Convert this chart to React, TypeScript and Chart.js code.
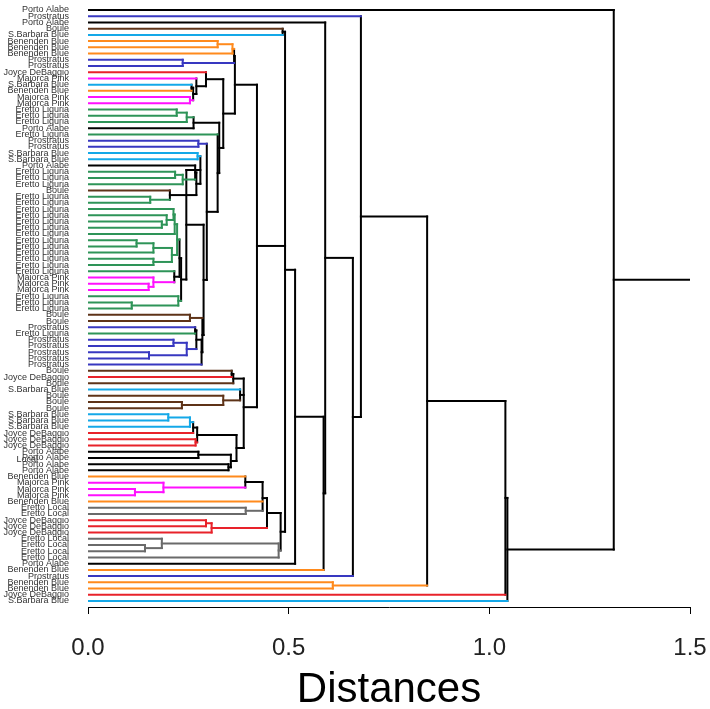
import React, { useEffect, useRef } from "react";
import { Chart, registerables } from "chart.js";

Chart.register(...registerables);

// Leaf labels, top to bottom
const leafLabels: string[] = [
  "Porto Alabe", "Prostratus", "Porto Alabe", "Boule", "S.Barbara Blue",
  "Benenden Blue", "Benenden Blue", "Benenden Blue", "Prostratus", "Prostratus",
  "Joyce DeBaggio", "Majorca Pink", "S.Barbara Blue", "Benenden Blue", "Majorca Pink",
  "Majorca Pink", "Eretto Liguria", "Eretto Liguria", "Eretto Liguria", "Porto Alabe",
  "Eretto Liguria", "Prostratus", "Prostratus", "S.Barbara Blue", "S.Barbara Blue",
  "Porto Alabe", "Eretto Liguria", "Eretto Liguria", "Eretto Liguria", "Boule",
  "Eretto Liguria", "Eretto Liguria", "Eretto Liguria", "Eretto Liguria", "Eretto Liguria",
  "Eretto Liguria", "Eretto Liguria", "Eretto Liguria", "Eretto Liguria", "Eretto Liguria",
  "Eretto Liguria", "Eretto Liguria", "Eretto Liguria", "Majorca Pink", "Majorca Pink",
  "Majorca Pink", "Eretto Liguria", "Eretto Liguria", "Eretto Liguria", "Boule",
  "Boule", "Prostratus", "Eretto Liguria", "Prostratus", "Prostratus",
  "Prostratus", "Prostratus", "Prostratus", "Boule", "Joyce DeBaggio",
  "Boule", "S.Barbara Blue", "Boule", "Boule", "Boule",
  "S.Barbara Blue", "S.Barbara Blue", "S.Barbara Blue", "Joyce DeBaggio", "Joyce DeBaggio",
  "Joyce DeBaggio", "Porto Alabe", "Porto Alabe", "Porto Alabe", "Porto Alabe",
  "Benenden Blue", "Majorca Pink", "Majorca Pink", "Majorca Pink", "Benenden Blue",
  "Eretto Local", "Eretto Local", "Joyce DeBaggio", "Joyce DeBaggio", "Joyce DeBaggio",
  "Eretto Local", "Eretto Local", "Eretto Local", "Eretto Local", "Porto Alabe",
  "Benenden Blue", "Prostratus", "Benenden Blue", "Benenden Blue", "Joyce DeBaggio",
  "S.Barbara Blue",
];

const groupNames: string[] = [
  "Porto Alabe", "Prostratus", "Boule", "S.Barbara Blue", "Benenden Blue",
  "Joyce DeBaggio", "Majorca Pink", "Eretto Liguria", "Eretto Local",
];
const groupColors: string[] = [
  "#000000", "#3838c0", "#5e3318", "#14a8e8", "#ff8a1c",
  "#e8222a", "#ff10ff", "#2e9458", "#6a6a6a",
];

// Internal nodes: children (negative = leaf number, positive = node number) and heights
const nodeChildren: number[][] = [
  [-6, -7], [1, -8], [-9, -10], [2, 3], [-15, -16],
  [-13, -14], [6, 5], [-12, 7], [-11, 8], [-17, -18],
  [10, -19], [11, -20], [-22, -23], [-24, -25], [-27, -28],
  [15, -29], [-26, 16], [-31, -32], [-30, 18], [17, 19],
  [14, 20], [-35, -36], [-34, 22], [-33, 23], [24, -37],
  [-38, -39], [26, -40], [-41, -42], [27, 28], [25, 29],
  [-45, -46], [-44, 31], [-43, 32], [30, 33], [-48, -49],
  [-47, 35], [34, 36], [21, 37], [-50, -51], [-52, -53],
  [-54, -55], [-56, -57], [41, 42], [40, 43], [44, -58],
  [39, 45], [38, 46], [13, 47], [-21, 48], [12, 49],
  [9, 50], [4, 51], [-59, -60], [53, -61], [-64, -65],
  [-63, 55], [-62, 56], [-66, -67], [58, -68], [59, -69],
  [-70, -71], [60, 61], [-72, -73], [-74, -75], [63, 64],
  [62, 65], [54, 57, 66], [52, 67], [-78, -79], [-77, 69],
  [-76, 70], [-81, -82], [71, -80, 72], [-83, -84], [74, -85],
  [73, 75], [-87, -88], [-86, 77], [78, -89], [76, 79],
  [-4, -5], [81, 68, 80], [82, -90], [83, -91], [-3, 84],
  [85, -92], [-2, 86], [-93, -94], [87, 88], [89, -95],
  [90, -96], [-1, 91],
];
const nodeHeights: number[] = [
  0.323, 0.360, 0.236, 0.364, 0.254,
  0.258, 0.262, 0.270, 0.294, 0.221,
  0.246, 0.263, 0.275, 0.273, 0.217,
  0.236, 0.267, 0.155, 0.204, 0.270,
  0.280, 0.184, 0.196, 0.213, 0.216,
  0.121, 0.163, 0.163, 0.209, 0.222,
  0.151, 0.163, 0.215, 0.228, 0.109,
  0.225, 0.232, 0.245, 0.254, 0.267,
  0.213, 0.152, 0.246, 0.270, 0.283,
  0.285, 0.288, 0.296, 0.323, 0.327,
  0.337, 0.366, 0.358, 0.362, 0.234,
  0.337, 0.379, 0.200, 0.254, 0.262,
  0.268, 0.272, 0.275, 0.350, 0.356,
  0.370, 0.388, 0.421, 0.117, 0.188,
  0.392, 0.393, 0.435, 0.294, 0.308,
  0.446, 0.142, 0.184, 0.475, 0.480,
  0.485, 0.491, 0.516, 0.587, 0.591,
  0.660, 0.680, 0.610, 0.845, 1.040,
  1.045, 1.310,
];
const rootEdgeTo = 1.5;

const xTickValues: number[] = [0, 0.5, 1.0, 1.5];
const axisTitle = "Distances";
const sideNoteText = "Local";
const sideNoteAt = 73.3;

const FONT = '"Liberation Sans", Arial, Helvetica, sans-serif';

type Seg = { pts: { x: number; y: number }[]; color: string };

function buildSegments(): Seg[] {
  const nodeY: number[] = [];
  const nodeGroup: number[] = [];
  const yOf = (r: number) => (r < 0 ? -r : nodeY[r - 1]);
  const hOf = (r: number) => (r < 0 ? 0 : nodeHeights[r - 1]);
  const gOf = (r: number) =>
    r < 0 ? groupNames.indexOf(leafLabels[-r - 1]) : nodeGroup[r - 1];
  const colorOf = (g: number) => (g < 0 ? "#000000" : groupColors[g]);

  nodeChildren.forEach((kids, i) => {
    const ys = kids.map(yOf);
    nodeY[i] = ys.reduce((a, b) => a + b, 0) / ys.length;
    const g0 = gOf(kids[0]);
    nodeGroup[i] = kids.every((k) => gOf(k) === g0) ? g0 : -1;
  });

  const horiz: Seg[] = [];
  const vert: Seg[] = [];
  nodeChildren.forEach((kids, i) => {
    const h = nodeHeights[i];
    const ys = kids.map(yOf);
    vert.push({
      pts: [
        { x: h, y: Math.min(...ys) },
        { x: h, y: Math.max(...ys) },
      ],
      color: colorOf(nodeGroup[i]),
    });
    kids.forEach((k) => {
      horiz.push({
        pts: [
          { x: hOf(k), y: yOf(k) },
          { x: h, y: yOf(k) },
        ],
        color: colorOf(gOf(k)),
      });
    });
  });
  const root = nodeChildren.length;
  horiz.push({
    pts: [
      { x: nodeHeights[root - 1], y: nodeY[root - 1] },
      { x: rootEdgeTo, y: nodeY[root - 1] },
    ],
    color: "#000000",
  });
  return [...horiz, ...vert];
}

export default function App() {
  const ref = useRef<HTMLCanvasElement>(null);

  useEffect(() => {
    document.body.style.margin = "0";
    const canvas = ref.current;
    if (!canvas) return;
    const segs = buildSegments();
    const n = leafLabels.length;

    const labelPlugin = {
      id: "leafLabels",
      afterDraw(chart: any) {
        const { ctx, chartArea, scales } = chart;
        ctx.save();
        ctx.font = `9px ${FONT}`;
        ctx.fillStyle = "#333333";
        ctx.textAlign = "right";
        ctx.textBaseline = "middle";
        leafLabels.forEach((lab, i) => {
          ctx.fillText(lab, chartArea.left - 19, scales.y.getPixelForValue(i + 1));
        });
        ctx.fillText(sideNoteText, chartArea.left - 50, scales.y.getPixelForValue(sideNoteAt));
        ctx.restore();
      },
    };

    const chart = new Chart(canvas, {
      type: "scatter",
      data: {
        datasets: segs.map((s) => ({
          data: s.pts,
          borderColor: s.color,
          backgroundColor: s.color,
          borderWidth: 2,
          pointRadius: 0,
          pointHoverRadius: 0,
          showLine: true,
          fill: false,
          tension: 0,
          borderCapStyle: "square",
        })),
      } as any,
      options: {
        responsive: false,
        animation: false,
        events: [],
        layout: { padding: { left: 88, right: 20, top: 4, bottom: 0 } },
        plugins: {
          legend: { display: false },
          tooltip: { enabled: false },
        },
        scales: {
          x: {
            type: "linear",
            position: "bottom",
            min: 0,
            max: 1.5,
            afterBuildTicks: (s: any) => {
              s.ticks = xTickValues.map((v) => ({ value: v }));
            },
            afterFit: (s: any) => {
              s.height = 102;
              s.paddingLeft = 0;
              s.paddingRight = 0;
            },
            ticks: {
              autoSkip: false,
              maxRotation: 0,
              padding: 20,
              color: "#222222",
              font: { size: 24, family: FONT },
              callback: (v: any) => Number(v).toFixed(1),
            },
            grid: {
              drawOnChartArea: false,
              drawTicks: true,
              tickLength: 7,
              color: "#000000",
              lineWidth: 1,
            },
            border: { display: true, color: "#000000", width: 1 },
            title: {
              display: true,
              text: axisTitle,
              color: "#000000",
              font: { size: 42, family: FONT },
              padding: { top: 0, bottom: -7 },
            },
          },
          y: {
            type: "linear",
            display: false,
            reverse: true,
            min: 0.0355,
            max: n + 0.9645,
          },
        },
      } as any,
      plugins: [labelPlugin],
    });
    return () => chart.destroy();
  }, []);

  return <canvas ref={ref} width={710} height={709} style={{ display: "block" }} />;
}
